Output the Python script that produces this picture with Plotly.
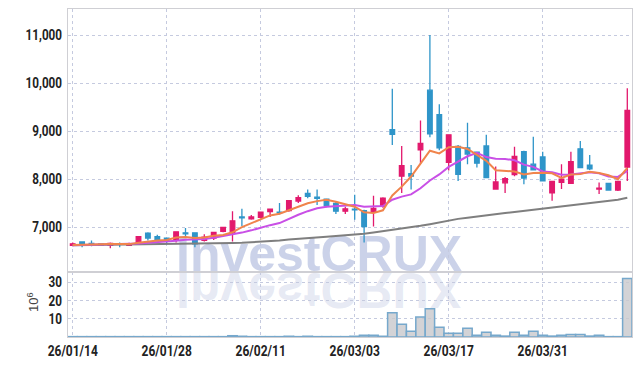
import plotly.graph_objects as go
import pandas as pd

dates = ["26/01/14", "26/01/15", "26/01/16", "26/01/19", "26/01/20", "26/01/21", "26/01/22", "26/01/23",
         "26/01/26", "26/01/27", "26/01/28", "26/01/29", "26/01/30", "26/02/02", "26/02/03", "26/02/04",
         "26/02/05", "26/02/06", "26/02/09", "26/02/10", "26/02/11", "26/02/12", "26/02/13", "26/02/19",
         "26/02/20", "26/02/23", "26/02/24", "26/02/25", "26/02/26", "26/02/27", "26/03/03", "26/03/04",
         "26/03/05", "26/03/06", "26/03/09", "26/03/10", "26/03/11", "26/03/12", "26/03/13", "26/03/16",
         "26/03/17", "26/03/18", "26/03/19", "26/03/20", "26/03/23", "26/03/24", "26/03/25", "26/03/26",
         "26/03/27", "26/03/30", "26/03/31", "26/04/01", "26/04/02", "26/04/03", "26/04/06", "26/04/07",
         "26/04/08", "26/04/09", "26/04/10", "26/04/13"]

opens = [6620, 6690, 6660, 6650, 6620, 6650, 6620, 6670, 6870, 6800,
         6770, 6720, 6880, 6880, 6720, 6770, 6910, 6880, 7210, 7170,
         7200, 7320, 7310, 7340, 7540, 7700, 7620, 7580, 7490, 7330,
         7370, 7340, 7320, 7430, 9030, 8060, 8110, 8610, 9850, 9340,
         8350, 8680, 8650, 8560, 8690, 7790, 7920, 8090, 8570, 8310,
         8460, 7710, 7930, 7910, 8630, 8290, 7790, 7910, 7770, 8250]
highs = [6680, 6700, 6720, 6660, 6680, 6680, 6670, 6810, 6890, 6840,
         6780, 6910, 6980, 6890, 6850, 6900, 7000, 7330, 7380, 7250,
         7320, 7380, 7500, 7560, 7660, 7780, 7780, 7590, 7520, 7420,
         7670, 7360, 7650, 7620, 9880, 8690, 8290, 9220, 11000, 9560,
         8930, 8710, 9170, 8570, 8920, 8260, 8040, 8670, 8590, 8880,
         8570, 7960, 8310, 8570, 8790, 8500, 7930, 7920, 7960, 9890]
lows = [6600, 6580, 6600, 6610, 6560, 6580, 6610, 6660, 6720, 6700,
        6640, 6680, 6800, 6580, 6700, 6730, 6890, 6700, 7020, 7150,
        7180, 7210, 7260, 7320, 7500, 7600, 7460, 7410, 7270, 7270,
        7150, 6680, 7010, 7400, 8710, 7710, 7780, 8320, 8870, 8600,
        8180, 7960, 8310, 8240, 8030, 7780, 7710, 8060, 7890, 8180,
        7960, 7550, 7790, 7900, 8230, 8190, 7690, 7760, 7750, 7960]
closes = [6650, 6650, 6650, 6620, 6660, 6640, 6650, 6800, 6770, 6740,
          6700, 6900, 6860, 6650, 6790, 6890, 6990, 7130, 7190, 7210,
          7310, 7370, 7300, 7550, 7610, 7640, 7600, 7450, 7330, 7380,
          7360, 7010, 7390, 7600, 8930, 8280, 8060, 8740, 8940, 8650,
          8920, 8100, 8520, 8330, 8030, 7940, 8010, 8470, 8020, 8190,
          7960, 7950, 8000, 8360, 8240, 8210, 7810, 7770, 7950, 9430]
# closes of the sessions before the first visible one (used only for the short averages)
prior_closes = [6610, 6620, 6600, 6630, 6620, 6610, 6640, 6620, 6610]

# volume in millions of shares
volumes = [0.2, 0.2, 0.2, 0.2, 0.2, 0.2, 0.2, 0.2, 0.2, 0.2,
           0.2, 0.2, 0.2, 0.2, 0.2, 0.2, 0.2, 0.7, 0.4, 0.2,
           0.2, 0.2, 0.2, 0.4, 0.2, 0.4, 0.2, 0.2, 0.2, 0.2,
           0.4, 1.0, 1.0, 0.4, 13.2, 7.0, 3.2, 10.9, 15.4, 5.4,
           2.0, 2.0, 4.8, 0.9, 2.6, 0.9, 0.5, 2.6, 0.9, 3.2,
           0.9, 0.5, 0.9, 1.4, 1.4, 0.5, 0.9, 0.2, 0.2, 32.0]

# long moving average
ma60 = [6620, 6622, 6624, 6625, 6626, 6627, 6628, 6630, 6632, 6634,
        6636, 6640, 6644, 6648, 6652, 6656, 6660, 6665, 6670, 6680,
        6690, 6705, 6720, 6738, 6756, 6772, 6786, 6800, 6812, 6825,
        6840, 6860, 6885, 6910, 6945, 6975, 7000, 7025, 7060, 7100,
        7140, 7170, 7195, 7222, 7248, 7268, 7290, 7312, 7335, 7360,
        7385, 7405, 7425, 7445, 7465, 7490, 7515, 7540, 7570, 7610]

tick_labels = ["26/01/14", "26/01/28", "26/02/11", "26/03/03", "26/03/17", "26/03/31"]
price_ticks = [7000, 8000, 9000, 10000, 11000]
volume_ticks = [10, 20, 30]
watermark = "InvestCRUX"

all_close = pd.Series(prior_closes + closes, dtype=float)
ma5 = all_close.rolling(5).mean().iloc[len(prior_closes):].tolist()
ma10 = all_close.rolling(10).mean().iloc[len(prior_closes):].tolist()

UP = "#e2196d"
DOWN = "#2f95c9"
GRID = "#c5cadf"
FRAME = "#cfcfd4"
tickfont = dict(family="Roboto, Liberation Sans, sans-serif", size=15, color="#222222", weight=700)

fig = go.Figure()
fig.add_trace(go.Bar(x=dates, y=volumes, xaxis="x", yaxis="y",
                     marker=dict(color="rgba(200,200,204,0.8)", line=dict(color="#76a8cc", width=1.5)),
                     hoverinfo="skip", showlegend=False))
fig.add_trace(go.Candlestick(x=dates, open=opens, high=highs, low=lows, close=closes,
                             xaxis="x2", yaxis="y2", whiskerwidth=0,
                             increasing=dict(line=dict(color=UP, width=1.3), fillcolor=UP),
                             decreasing=dict(line=dict(color=DOWN, width=1.3), fillcolor=DOWN),
                             hoverinfo="skip", showlegend=False))
fig.add_trace(go.Scatter(x=dates, y=ma60, xaxis="x2", yaxis="y2", mode="lines",
                         line=dict(color="#7f7f7f", width=2), hoverinfo="skip", showlegend=False))
fig.add_trace(go.Scatter(x=dates, y=ma10, xaxis="x2", yaxis="y2", mode="lines",
                         line=dict(color="#c94fe6", width=2), hoverinfo="skip", showlegend=False))
fig.add_trace(go.Scatter(x=dates, y=ma5, xaxis="x2", yaxis="y2", mode="lines",
                         line=dict(color="#f0844c", width=2), hoverinfo="skip", showlegend=False))

common_x = dict(type="category", range=[-0.5, len(dates) - 0.5], tickmode="array",
                tickvals=tick_labels, ticktext=tick_labels, showgrid=True, gridcolor=GRID,
                griddash="dot", gridwidth=1, showline=True, mirror=True, linecolor=FRAME,
                linewidth=1, zeroline=False, ticks="", fixedrange=True, automargin=False,
                rangeslider=dict(visible=False))

pane_split = 0.198
fig.update_layout(
    width=642, height=366,
    margin=dict(l=68, r=10, t=9, b=29),
    paper_bgcolor="white", plot_bgcolor="rgba(0,0,0,0)",
    hovermode=False, showlegend=False, bargap=0,
    xaxis=dict(**common_x, anchor="y", domain=[0, 1], tickfont=tickfont),
    xaxis2=dict(**common_x, anchor="y2", domain=[0, 1], matches="x", showticklabels=False),
    yaxis=dict(domain=[0, pane_split], range=[0, 35.5], tickvals=volume_ticks,
               showgrid=True, gridcolor=GRID, griddash="dot", showline=True, mirror=True,
               linecolor=FRAME, zeroline=False, ticks="", tickfont=tickfont, fixedrange=True,
               automargin=False, ticklabelstandoff=2),
    yaxis2=dict(domain=[pane_split, 1], range=[6062, 11542], tickvals=price_ticks, tickformat=",",
                showgrid=True, gridcolor=GRID, griddash="dot", showline=True, mirror=True,
                linecolor=FRAME, zeroline=False, ticks="", tickfont=tickfont, fixedrange=True,
                automargin=False, ticklabelstandoff=2),
    annotations=[
        dict(text=watermark, xref="paper", yref="paper", x=(319 - 68) / 564, y=(337 - 254) / 328,
             xanchor="center", yanchor="middle", showarrow=False,
             font=dict(family="Liberation Sans, Arial, sans-serif", size=50, weight=700,
                       color="rgba(178,188,222,0.68)")),
        dict(text=watermark, xref="paper", yref="paper", x=(319 - 68) / 564, y=(337 - 290) / 328,
             xanchor="center", yanchor="middle", showarrow=False,
             font=dict(family="Liberation Sans, Arial, sans-serif", size=50, weight=700,
                       color="rgba(180,190,222,0.33)")),
        dict(text="10<sup>6</sup>", xref="paper", yref="paper", x=(33 - 68) / 564, y=(337 - 302) / 328,
             xanchor="center", yanchor="middle", showarrow=False, textangle=-90,
             font=dict(family="Liberation Sans, Arial, sans-serif", size=13, color="#444444")),
    ],
)

post_script = """
document.body.style.margin = '0';
var NS = 'http://www.w3.org/2000/svg';
var gd = document.getElementById('{plot_id}');
var svg = gd.querySelector('svg.main-svg');
var cart = svg.querySelector('.cartesianlayer');
var anns = Array.prototype.slice.call(gd.querySelectorAll('g.annotation'));
anns.forEach(function(a){
  var idx = a.getAttribute('data-index');
  if (idx === '0' || idx === '1') {
    if (idx === '1') {
      var t = a.querySelector('text');
      var g = document.createElementNS(NS, 'g');
      t.parentNode.insertBefore(g, t);
      g.appendChild(t);
      var bb = g.getBBox();
      var cy = bb.y + bb.height / 2;
      g.setAttribute('transform', 'translate(0,' + (2 * cy) + ') scale(1,-1)');
    }
    cart.parentNode.insertBefore(a, cart);
  }
});
function condenseAll() {
  var texts = Array.prototype.slice.call(gd.querySelectorAll('text'));
  texts.forEach(function(t){
    if (t.getAttribute('data-cond')) return;
    var s = (t.textContent || '').trim();
    var mode = null, sc = 0.8;
    if (/^\\d{1,2},\\d{3}$/.test(s) || /^\\d0$/.test(s)) { mode = 'right'; sc = 0.78; }
    else if (/^\\d\\d\\/\\d\\d\\/\\d\\d$/.test(s)) { mode = 'center'; sc = 0.8; }
    if (!mode) return;
    t.setAttribute('data-cond', '1');
    var p = t.parentNode;
    var g = document.createElementNS(NS, 'g');
    p.insertBefore(g, t);
    g.appendChild(t);
    var bb = g.getBBox();
    var ax = (mode === 'right') ? (bb.x + bb.width) : (bb.x + bb.width / 2);
    g.setAttribute('transform', 'translate(' + ax + ',0) scale(' + sc + ',1) translate(' + (-ax) + ',0)');
  });
}
condenseAll();
"""

fig.write_html("out.html", post_script=post_script, config={"displayModeBar": False, "staticPlot": True})
